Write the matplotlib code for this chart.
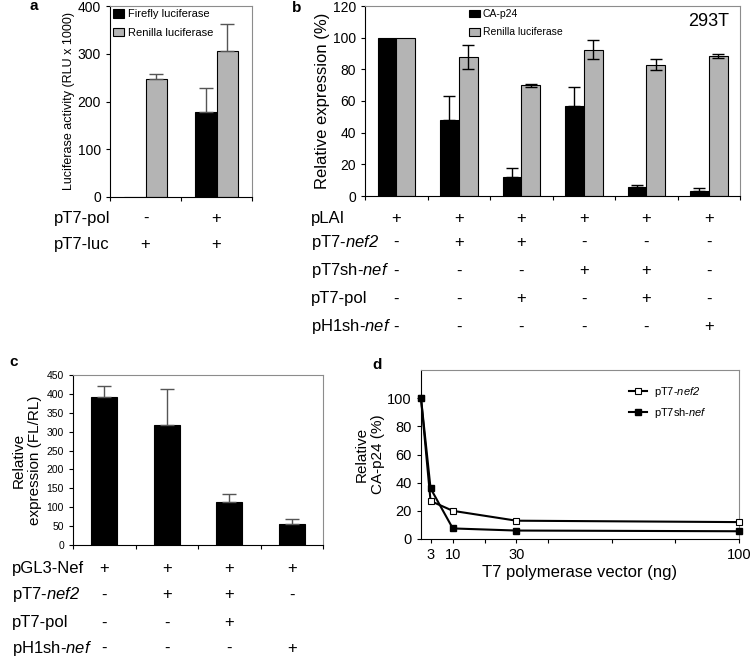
import numpy as np
import matplotlib
matplotlib.use("Agg")
import matplotlib.pyplot as plt
from matplotlib import transforms

plt.rcParams['font.family'] = ['Liberation Sans', 'DejaVu Sans']
plt.rcParams['mathtext.fontset'] = 'custom'
plt.rcParams['mathtext.rm'] = 'Liberation Sans'
plt.rcParams['mathtext.it'] = 'Liberation Sans:italic'
plt.rcParams['mathtext.sf'] = 'Liberation Sans:italic'   # italic incl. digits

#%% data
# panel a
a_firefly = [1, 177]
a_firefly_err = [0, 51]
a_renilla = [248, 305]
a_renilla_err = [10, 57]
a_row_names = ['pT7-pol', 'pT7-luc']
a_rows = [['-', '+'], ['+', '+']]

# panel b
b_cap24 = [100, 48, 12, 57, 6, 3]
b_cap24_err = [0, 15, 6, 12, 1, 2]
b_renilla = [100, 88, 70, 92.5, 83, 88.5]
b_renilla_err = [0, 7.5, 1, 6, 3.5, 1.5]
b_row_names = ['pLAI', 'pT7-$\\mathsf{nef2}$', 'pT7sh-$\\mathsf{nef}$', 'pT7-pol', 'pH1sh-$\\mathsf{nef}$']
b_rows = [['+', '+', '+', '+', '+', '+'],
          ['-', '+', '+', '-', '-', '-'],
          ['-', '-', '-', '+', '+', '-'],
          ['-', '-', '+', '-', '+', '-'],
          ['-', '-', '-', '-', '-', '+']]

# panel c
c_vals = [392, 318, 113, 55]
c_err = [30, 95, 23, 13]
c_row_names = ['pGL3-Nef', 'pT7-$\\mathsf{nef2}$', 'pT7-pol', 'pH1sh-$\\mathsf{nef}$']
c_rows = [['+', '+', '+', '+'],
          ['-', '+', '+', '-'],
          ['-', '-', '+', ''],
          ['-', '-', '-', '+']]

# panel d
d_x = [0, 3, 10, 30, 100]
d_nef2 = [100, 27, 20, 13, 12]
d_shnef = [100, 36, 7.5, 6, 5.5]

GREY = '#b4b4b4'
FRAME = '#8c8c8c'
H = 657.0

fig = plt.figure(figsize=(7.5, 6.57), dpi=100)


def style_frame(ax):
    ax.spines['left'].set_color('black')
    ax.spines['bottom'].set_color('black')
    ax.spines['top'].set_color(FRAME)
    ax.spines['right'].set_color(FRAME)
    for s in ax.spines.values():
        s.set_linewidth(0.8)


def err(ax, x, y, e, color, cap, upper_only=False):
    # only bars that actually have an error get a whisker
    x, y, e = np.asarray(x, float), np.asarray(y, float), np.asarray(e, float)
    m = e > 0
    lo = np.zeros(m.sum()) if upper_only else e[m]
    ax.errorbar(x[m], y[m], yerr=[lo, e[m]], fmt='none', ecolor=color, capsize=cap, lw=1, zorder=3)


def row_table(ax, names, rows, ys, name_x, fs=12):
    tr = transforms.blended_transform_factory(ax.transData, fig.transFigure)
    for name, row, y in zip(names, rows, ys):
        fig.text(name_x / 750, 1 - y / H, name, fontsize=fs, va='center', ha='left')
        for i, s in enumerate(row):
            ax.text(i, 1 - y / H, s, fontsize=fs, va='center', ha='center', transform=tr)


#%% a
ax_a = fig.add_axes([110/750, 1-197/H, 142/750, 191/H])
xa = np.arange(len(a_firefly))
ax_a.bar(xa - 0.15, a_firefly, 0.3, color='black', edgecolor='black', lw=0.8, label='Firefly luciferase', zorder=2)
ax_a.bar(xa + 0.15, a_renilla, 0.3, color=GREY, edgecolor='black', lw=0.8, label='Renilla luciferase', zorder=2)
err(ax_a, xa - 0.15, a_firefly, a_firefly_err, '#555555', 5, upper_only=True)
err(ax_a, xa + 0.15, a_renilla, a_renilla_err, '#555555', 5, upper_only=True)
ax_a.set_xlim(-0.5, 1.5)
ax_a.set_ylim(0, 400)
ax_a.set_yticks(np.arange(0, 401, 100))
ax_a.set_xticks([-0.5, 0.5, 1.5])
ax_a.set_xticklabels([])
ax_a.tick_params(axis='both', direction='out', length=3, labelsize=10)
ax_a.set_ylabel('Luciferase activity (RLU x 1000)', fontsize=9, labelpad=2)
style_frame(ax_a)
ax_a.legend(loc='upper left', frameon=False, fontsize=8, handlelength=1.0, handleheight=0.8,
            labelspacing=0.75, handletextpad=0.3, borderaxespad=0.1, borderpad=0.2)
row_table(ax_a, a_row_names, a_rows, [218, 245], 54)
fig.text(29/750, 1-6/H, 'a', fontsize=11, fontweight='bold', va='center')

#%% b
ax_b = fig.add_axes([365/750, 1-196/H, 375/750, 190/H])
xb = np.arange(len(b_cap24))
ax_b.bar(xb - 0.15, b_cap24, 0.3, color='black', edgecolor='black', lw=0.8, label='CA-p24', zorder=2)
ax_b.bar(xb + 0.15, b_renilla, 0.3, color=GREY, edgecolor='black', lw=0.8, label='Renilla luciferase', zorder=2)
err(ax_b, xb - 0.15, b_cap24, b_cap24_err, 'black', 4, upper_only=True)
err(ax_b, xb + 0.15, b_renilla, b_renilla_err, 'black', 4)
ax_b.set_xlim(-0.5, 5.5)
ax_b.set_ylim(0, 120)
ax_b.set_yticks(np.arange(0, 121, 20))
ax_b.set_xticks(np.arange(-0.5, 6, 1))
ax_b.set_xticklabels([])
ax_b.tick_params(axis='both', direction='out', length=3, labelsize=10)
ax_b.set_ylabel('Relative expression (%)', fontsize=12, labelpad=2)
style_frame(ax_b)
ax_b.legend(loc='upper left', bbox_to_anchor=(0.27, 1.0), frameon=False, fontsize=7.5,
            handlelength=1.0, handleheight=0.8, labelspacing=0.8, handletextpad=0.3,
            borderaxespad=0.1, borderpad=0.2)
ax_b.text(0.97, 0.92, '293T', transform=ax_b.transAxes, fontsize=13, ha='right', va='center')
row_table(ax_b, b_row_names, b_rows, [218, 242, 271, 299, 327], 311)
fig.text(292/750, 1-8/H, 'b', fontsize=11, fontweight='bold', va='center')

#%% c
ax_c = fig.add_axes([73/750, 1-545/H, 250/750, 170/H])
xc = np.arange(len(c_vals))
ax_c.bar(xc, c_vals, 0.41, color='black', edgecolor='black', lw=0.8, zorder=2)
err(ax_c, xc, c_vals, c_err, '#555555', 5, upper_only=True)
ax_c.set_xlim(-0.5, 3.5)
ax_c.set_ylim(0, 450)
ax_c.set_yticks(np.arange(0, 451, 50))
ax_c.set_xticks(np.arange(-0.5, 4, 1))
ax_c.set_xticklabels([])
ax_c.tick_params(axis='both', direction='out', length=3, labelsize=7.5)
ax_c.set_ylabel('Relative\nexpression (FL/RL)', fontsize=11, labelpad=3)
style_frame(ax_c)
row_table(ax_c, c_row_names, c_rows, [568, 595, 623, 648], 12)
fig.text(9/750, 1-362/H, 'c', fontsize=11, fontweight='bold', va='center')

#%% d
ax_d = fig.add_axes([421/750, 1-539/H, 318/750, 169/H])
ax_d.plot(d_x, d_nef2, '-s', color='black', lw=1.5, ms=4.5, mfc='white', mec='black', mew=0.8,
          label='pT7-$\\mathsf{nef2}$', clip_on=False, zorder=3)
ax_d.plot(d_x, d_shnef, '-s', color='black', lw=1.5, ms=4.5, mfc='black', mec='black',
          label='pT7sh-$\\mathsf{nef}$', clip_on=False, zorder=3)
ax_d.set_xlim(0, 100)
ax_d.set_ylim(0, 120)
ax_d.set_yticks(np.arange(0, 101, 20))
ax_d.set_xticks([3, 10, 20, 30, 40, 60, 80, 100])
ax_d.set_xticklabels(['3', '10', '', '30', '', '', '', '100'])
ax_d.tick_params(axis='both', direction='out', length=3, labelsize=10.5)
ax_d.set_xlabel('T7 polymerase vector (ng)', fontsize=12, labelpad=2)
ax_d.set_ylabel('Relative\nCA-p24 (%)', fontsize=11, labelpad=2)
style_frame(ax_d)
ax_d.legend(loc='upper right', bbox_to_anchor=(0.93, 0.97), frameon=False, fontsize=8,
            handlelength=1.6, labelspacing=0.6, handletextpad=0.6)
fig.text(372/750, 1-365/H, 'd', fontsize=11, fontweight='bold', va='center')

plt.savefig('out.png', dpi=100)
